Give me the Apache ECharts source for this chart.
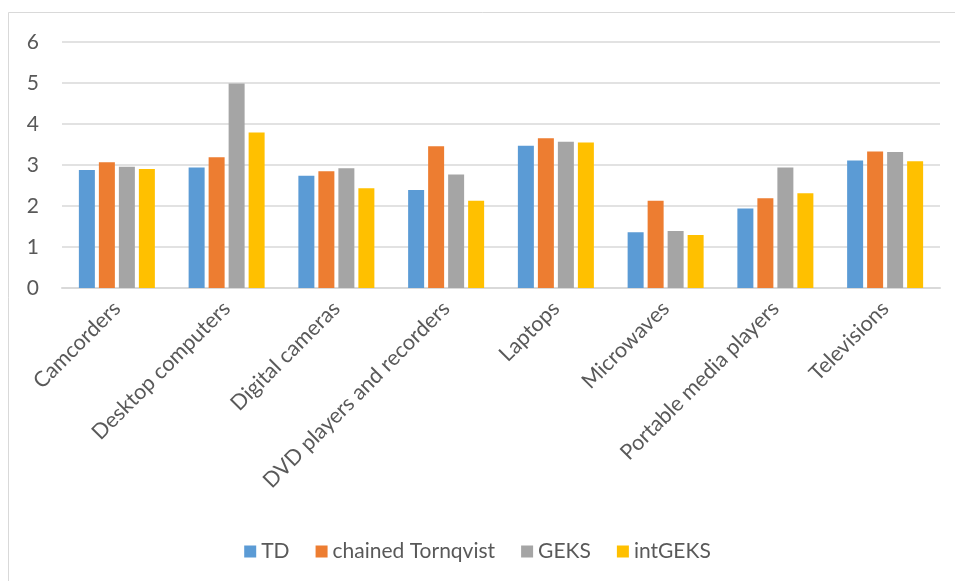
<!DOCTYPE html>
<html>
<head>
<meta charset="utf-8">
<script src="https://cdn.jsdelivr.net/npm/echarts@6/dist/echarts.min.js"></script>
<style>
  html, body { margin: 0; padding: 0; background: #fff; }
  #chart { width: 955px; height: 581px; }
</style>
</head>
<body>
<div id="chart"></div>
<script>
// Product categories on the x axis
const categories = [
  'Camcorders', 'Desktop computers', 'Digital cameras', 'DVD players and recorders',
  'Laptops', 'Microwaves', 'Portable media players', 'Televisions'
];

// Index values per method
const tdValues      = [2.88, 2.94, 2.74, 2.39, 3.47, 1.36, 1.94, 3.11];
const tornqvistVals = [3.07, 3.19, 2.85, 3.46, 3.65, 2.13, 2.19, 3.33];
const geksValues    = [2.96, 4.99, 2.92, 2.77, 3.57, 1.39, 2.94, 3.32];
const intGeksValues = [2.90, 3.79, 2.43, 2.13, 3.55, 1.29, 2.31, 3.09];

const seriesNames = ['TD', 'chained Tornqvist', 'GEKS', 'intGEKS'];
const seriesColors = ['#5b9bd5', '#ed7d31', '#a5a5a5', '#ffc000'];
const yTicks = { min: 0, max: 6, interval: 1 };

const FONT = 'Lato, "Open Sans", sans-serif';
const TEXT = '#595959';

const chart = echarts.init(document.getElementById('chart'), null, { renderer: 'canvas' });

const dataSets = [tdValues, tornqvistVals, geksValues, intGeksValues];

chart.setOption({
  animation: false,
  backgroundColor: '#fff',
  graphic: [{
    type: 'rect',
    shape: { x: 8.5, y: 12.5, width: 980, height: 620 },
    style: { fill: 'none', stroke: '#d9d9d9', lineWidth: 1 },
    silent: true
  }],
  grid: { left: 62, right: 15, top: 42, bottom: 293, containLabel: false },
  legend: {
    data: seriesNames,
    top: 536,
    left: 'center',
    itemWidth: 12,
    itemHeight: 12,
    itemGap: 26,
    icon: 'rect',
    textStyle: { color: TEXT, fontSize: 21, fontFamily: FONT }
  },
  xAxis: {
    type: 'category',
    data: categories,
    axisLine: { lineStyle: { color: '#d9d9d9', width: 2 } },
    axisTick: { show: false },
    axisLabel: {
      rotate: 45,
      interval: 0,
      margin: 17,
      color: TEXT,
      fontSize: 21.5,
      fontFamily: FONT
    }
  },
  yAxis: {
    type: 'value',
    min: yTicks.min,
    max: yTicks.max,
    interval: yTicks.interval,
    axisLine: { show: false },
    axisTick: { show: false },
    splitLine: { lineStyle: { color: '#d9d9d9', width: 1.5 } },
    axisLabel: { color: TEXT, fontSize: 21, fontFamily: FONT, margin: 23 }
  },
  series: dataSets.map((vals, i) => ({
    name: seriesNames[i],
    type: 'bar',
    data: vals,
    barWidth: 16,
    barGap: '25%',
    itemStyle: { color: seriesColors[i] }
  }))
});
</script>
</body>
</html>
